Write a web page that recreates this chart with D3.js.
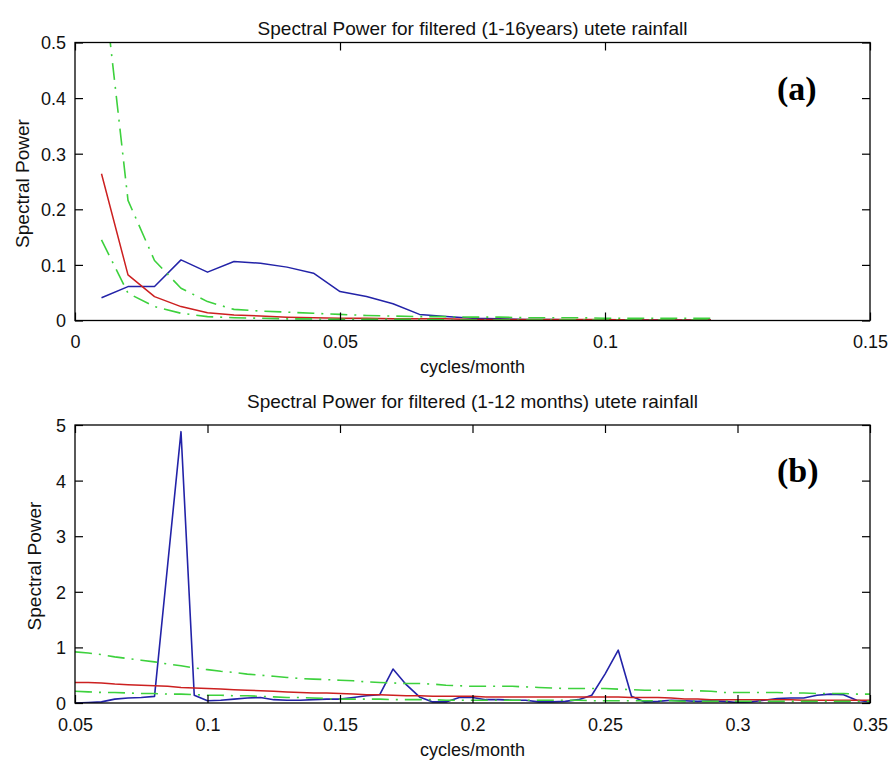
<!DOCTYPE html>
<html>
<head>
<meta charset="utf-8">
<script src="https://cdn.jsdelivr.net/npm/d3@7"></script>
<style>
  body { margin: 0; background: #fff; }
  svg { display: block; font-family: "Liberation Sans", Arial, sans-serif; }
</style>
</head>
<body>
<svg id="chart" width="892" height="763"></svg>
<script>
// Panel (a): filtered 1-16 years
const freqA = [0.005, 0.010, 0.015, 0.020, 0.025, 0.030, 0.035, 0.040, 0.045, 0.050,
               0.055, 0.060, 0.065, 0.070, 0.075, 0.080, 0.085, 0.090, 0.095, 0.100,
               0.105, 0.110, 0.115, 0.120]
const blueA = [0.041, 0.061, 0.061, 0.109, 0.087, 0.106, 0.103, 0.096, 0.085, 0.052,
               0.043, 0.030, 0.011, 0.007, 0.004, 0.003, 0.002, 0.002, 0.001, 0.001,
               0.001, 0.001, 0.001, 0.001]
const redA = [0.264, 0.082, 0.043, 0.025, 0.014, 0.010, 0.008, 0.006, 0.005, 0.004,
              0.004, 0.003, 0.003, 0.003, 0.002, 0.002, 0.002, 0.002, 0.002, 0.002,
              0.001, 0.001, 0.001, 0.001]
const upperA = [0.640, 0.216, 0.108, 0.058, 0.034, 0.020, 0.017, 0.015, 0.013, 0.011,
                0.009, 0.008, 0.007, 0.007, 0.006, 0.006, 0.005, 0.005, 0.005, 0.004,
                0.004, 0.004, 0.004, 0.004]
const lowerA = [0.145, 0.049, 0.025, 0.013, 0.007, 0.005, 0.004, 0.003, 0.003, 0.002,
                0.002, 0.002, 0.002, 0.001, 0.001, 0.001, 0.001, 0.001, 0.001, 0.001,
                0.001, 0.001, 0.001, 0.001]

// Panel (b): filtered 1-12 months
const freqB = [0.050, 0.055, 0.060, 0.065, 0.070, 0.075, 0.080, 0.085, 0.090, 0.095,
               0.100, 0.105, 0.110, 0.115, 0.120, 0.125, 0.130, 0.135, 0.140, 0.145,
               0.150, 0.155, 0.160, 0.165, 0.170, 0.175, 0.180, 0.185, 0.190, 0.195,
               0.200, 0.205, 0.210, 0.215, 0.220, 0.225, 0.230, 0.235, 0.240, 0.245,
               0.250, 0.255, 0.260, 0.265, 0.270, 0.275, 0.280, 0.285, 0.290, 0.295,
               0.300, 0.305, 0.310, 0.315, 0.320, 0.325, 0.330, 0.335, 0.340, 0.345,
               0.350]
const blueB = [0.00, 0.01, 0.02, 0.07, 0.09, 0.10, 0.12, 2.50, 4.88, 0.14,
               0.04, 0.05, 0.07, 0.09, 0.10, 0.06, 0.05, 0.05, 0.06, 0.07,
               0.07, 0.10, 0.13, 0.15, 0.61, 0.33, 0.11, 0.02, 0.02, 0.10,
               0.10, 0.06, 0.06, 0.05, 0.05, 0.02, 0.02, 0.03, 0.06, 0.14,
               0.52, 0.95, 0.12, 0.02, 0.03, 0.05, 0.04, 0.03, 0.04, 0.03,
               0.01, 0.02, 0.05, 0.08, 0.09, 0.09, 0.14, 0.16, 0.15, 0.05,
               0.02]
const redB = [0.37, 0.37, 0.36, 0.34, 0.33, 0.32, 0.31, 0.30, 0.28, 0.27,
              0.26, 0.25, 0.24, 0.23, 0.22, 0.21, 0.20, 0.19, 0.18, 0.18,
              0.17, 0.16, 0.15, 0.15, 0.14, 0.13, 0.13, 0.12, 0.12, 0.12,
              0.12, 0.11, 0.11, 0.11, 0.11, 0.11, 0.11, 0.11, 0.11, 0.11,
              0.11, 0.11, 0.10, 0.10, 0.10, 0.09, 0.07, 0.07, 0.06, 0.06,
              0.06, 0.06, 0.06, 0.06, 0.06, 0.05, 0.05, 0.05, 0.05, 0.05,
              0.05]
const upperB = [0.92, 0.90, 0.87, 0.83, 0.80, 0.77, 0.74, 0.70, 0.67, 0.63,
                0.60, 0.57, 0.55, 0.52, 0.50, 0.48, 0.46, 0.44, 0.43, 0.42,
                0.41, 0.40, 0.38, 0.37, 0.36, 0.35, 0.35, 0.34, 0.32, 0.31,
                0.30, 0.30, 0.30, 0.30, 0.29, 0.28, 0.27, 0.26, 0.26, 0.26,
                0.26, 0.25, 0.24, 0.23, 0.23, 0.23, 0.23, 0.22, 0.21, 0.19,
                0.19, 0.19, 0.19, 0.19, 0.18, 0.18, 0.17, 0.17, 0.17, 0.16,
                0.16]
const lowerB = [0.21, 0.20, 0.19, 0.19, 0.18, 0.17, 0.17, 0.16, 0.16, 0.15,
                0.14, 0.14, 0.13, 0.13, 0.12, 0.11, 0.10, 0.10, 0.09, 0.08,
                0.07, 0.07, 0.07, 0.07, 0.06, 0.06, 0.06, 0.06, 0.05, 0.05,
                0.05, 0.05, 0.05, 0.05, 0.05, 0.05, 0.05, 0.05, 0.05, 0.04,
                0.04, 0.04, 0.04, 0.04, 0.04, 0.04, 0.03, 0.03, 0.03, 0.03,
                0.03, 0.03, 0.03, 0.03, 0.03, 0.03, 0.03, 0.03, 0.03, 0.03,
                0.03]

// Ticks
const xTicksA = [0, 0.05, 0.1, 0.15]
const yTicksA = [0, 0.1, 0.2, 0.3, 0.4, 0.5]
const xTicksB = [0.05, 0.1, 0.15, 0.2, 0.25, 0.3, 0.35]
const yTicksB = [0, 1, 2, 3, 4, 5]

const titleA = 'Spectral Power for filtered (1-16years) utete rainfall'
const titleB = 'Spectral Power for filtered (1-12 months) utete rainfall'

const svg = d3.select('#chart')
const fmt = d3.format('~g')

const drawPanel = (p) => {
    const x = d3.scaleLinear().domain(p.xDomain).range([p.left, p.right])
    const y = d3.scaleLinear().domain(p.yDomain).range([p.bottom, p.top])
    const g = svg.append('g')

    // clip so curves above the y-limit are cut at the box
    g.append('clipPath').attr('id', p.id + '-clip')
      .append('rect')
      .attr('x', p.left).attr('y', p.top)
      .attr('width', p.right - p.left).attr('height', p.bottom - p.top)

    const line = d3.line().x(d => x(d[0])).y(d => y(d[1]))
    const lines = g.append('g').attr('clip-path', `url(#${p.id}-clip)`)

    p.series.forEach(s => {
        lines.append('path')
          .datum(p.freq.map((f, i) => [f, s.values[i]]))
          .attr('d', line)
          .attr('fill', 'none')
          .attr('stroke', s.color)
          .attr('stroke-width', s.width)
          .attr('stroke-dasharray', s.dash || null)
          .attr('stroke-linejoin', 'round')
    })

    // axes, ticks inside on all four sides
    const tick = 8
    const bottomAxis = g.append('g')
      .attr('transform', `translate(0,${p.bottom})`)
      .call(d3.axisBottom(x).tickValues(p.xTicks).tickFormat(fmt).tickSizeInner(-tick).tickSizeOuter(0))
    bottomAxis.selectAll('text').attr('y', 27.5).attr('dy', null)

    g.append('g')
      .attr('transform', `translate(0,${p.top})`)
      .call(d3.axisTop(x).tickValues(p.xTicks).tickFormat('').tickSizeInner(-tick).tickSizeOuter(0))

    const leftAxis = g.append('g')
      .attr('transform', `translate(${p.left},0)`)
      .call(d3.axisLeft(y).tickValues(p.yTicks).tickFormat(fmt).tickSizeInner(-tick).tickSizeOuter(0))
    leftAxis.selectAll('text').attr('x', -9).attr('dy', '0.36em')

    g.append('g')
      .attr('transform', `translate(${p.right},0)`)
      .call(d3.axisRight(y).tickValues(p.yTicks).tickFormat('').tickSizeInner(-tick).tickSizeOuter(0))

    g.selectAll('.domain').remove()
    g.selectAll('.tick line').attr('stroke', '#000').attr('stroke-width', 1.2)
    g.selectAll('.tick text').attr('font-size', 18).attr('fill', '#111').attr('font-family', null)

    g.append('rect')
      .attr('x', p.left).attr('y', p.top)
      .attr('width', p.right - p.left).attr('height', p.bottom - p.top)
      .attr('fill', 'none').attr('stroke', '#000').attr('stroke-width', 1.3)

    // labels
    g.append('text')
      .attr('x', (p.left + p.right) / 2).attr('y', p.titleY)
      .attr('text-anchor', 'middle').attr('font-size', 19).attr('fill', '#111')
      .text(p.title)

    g.append('text')
      .attr('x', (p.left + p.right) / 2).attr('y', p.bottom + 52.5)
      .attr('text-anchor', 'middle').attr('font-size', 18).attr('fill', '#111')
      .text('cycles/month')

    g.append('text')
      .attr('transform', `translate(${p.yLabelX},${(p.top + p.bottom) / 2 + 2}) rotate(-90)`)
      .attr('text-anchor', 'middle').attr('font-size', 19).attr('fill', '#111')
      .text('Spectral Power')

    g.append('text')
      .attr('x', 777).attr('y', p.tagY)
      .attr('font-family', '"Liberation Serif", "Times New Roman", serif')
      .attr('font-weight', 'bold').attr('font-size', 34).attr('fill', '#000')
      .text(p.tag)
}

const blue = '#2323a8'
const red = '#cc2020'
const green = '#3dd13d'
const dashDot = '17,7,2,7'

drawPanel({
    id: 'a', left: 75, right: 870, top: 42.5, bottom: 320.5,
    xDomain: [0, 0.15], yDomain: [0, 0.5],
    xTicks: xTicksA, yTicks: yTicksA,
    freq: freqA,
    series: [
        { values: blueA, color: blue, width: 1.5 },
        { values: redA, color: red, width: 1.5 },
        { values: upperA, color: green, width: 1.6, dash: dashDot },
        { values: lowerA, color: green, width: 1.6, dash: dashDot }
    ],
    title: titleA, titleY: 35, yLabelX: 29, tag: '(a)', tagY: 100
})

drawPanel({
    id: 'b', left: 75, right: 870, top: 425, bottom: 703,
    xDomain: [0.05, 0.35], yDomain: [0, 5],
    xTicks: xTicksB, yTicks: yTicksB,
    freq: freqB,
    series: [
        { values: blueB, color: blue, width: 1.6 },
        { values: redB, color: red, width: 1.5 },
        { values: upperB, color: green, width: 1.6, dash: dashDot },
        { values: lowerB, color: green, width: 1.6, dash: dashDot }
    ],
    title: titleB, titleY: 408, yLabelX: 41, tag: '(b)', tagY: 482
})
</script>
</body>
</html>
